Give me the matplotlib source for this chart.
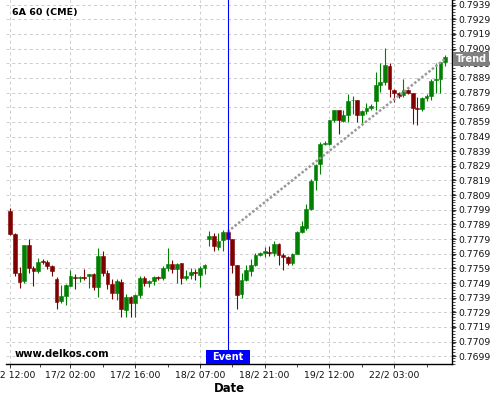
import numpy as np
import matplotlib
matplotlib.use("Agg")
import matplotlib.pyplot as plt
from matplotlib.ticker import MultipleLocator, FixedLocator
import matplotlib.transforms as mtransforms

# hourly candles, 6A (AUD futures), weekend / daily halts skipped
opens = [0.77979, 0.77828, 0.77561, 0.77506, 0.77750, 0.77593, 0.77574, 0.77640, 0.77636, 0.77606,
         0.77517, 0.77369, 0.77401, 0.77472, 0.77533, 0.77522, 0.77533, 0.77538, 0.77552, 0.77460,
         0.77675, 0.77561, 0.77483, 0.77424, 0.77497, 0.77305, 0.77392, 0.77357, 0.77410, 0.77524,
         0.77490, 0.77505, 0.77530, 0.77523, 0.77592, 0.77621, 0.77585, 0.77626, 0.77523, 0.77544,
         0.77562, 0.77546, 0.77596, 0.77790, 0.77813, 0.77735, 0.77785, 0.77838, 0.77790, 0.77615,
         0.77416, 0.77508, 0.77569, 0.77615, 0.77683, 0.77694, 0.77699, 0.77694, 0.77758, 0.77683,
         0.77667, 0.77626, 0.77690, 0.77836, 0.77868, 0.77997, 0.78195, 0.78305, 0.78437, 0.78437,
         0.78601, 0.78669, 0.78596, 0.78635, 0.78738, 0.78742, 0.78635, 0.78665, 0.78688, 0.78735,
         0.78842, 0.78865, 0.78972, 0.78808, 0.78790, 0.78774, 0.78808, 0.78790, 0.78682, 0.78676,
         0.78751, 0.78767, 0.78876, 0.78881, 0.79001]
highs = [0.78000, 0.77830, 0.77602, 0.77752, 0.77790, 0.77606, 0.77659, 0.77652, 0.77648, 0.77611,
         0.77529, 0.77476, 0.77483, 0.77579, 0.77549, 0.77540, 0.77584, 0.77552, 0.77561, 0.77727,
         0.77708, 0.77579, 0.77515, 0.77515, 0.77515, 0.77415, 0.77403, 0.77418, 0.77535, 0.77540,
         0.77510, 0.77540, 0.77540, 0.77603, 0.77728, 0.77649, 0.77626, 0.77630, 0.77580, 0.77592,
         0.77585, 0.77603, 0.77620, 0.77842, 0.77831, 0.77830, 0.77854, 0.77842, 0.77790, 0.77615,
         0.77558, 0.77615, 0.77653, 0.77694, 0.77699, 0.77735, 0.77744, 0.77774, 0.77763, 0.77694,
         0.77672, 0.77694, 0.77842, 0.77911, 0.78031, 0.78202, 0.78305, 0.78453, 0.78460, 0.78605,
         0.78674, 0.78670, 0.78669, 0.78783, 0.78765, 0.78742, 0.78670, 0.78719, 0.78715, 0.78933,
         0.78995, 0.79093, 0.78990, 0.78812, 0.78797, 0.78881, 0.78812, 0.78790, 0.78762, 0.78762,
         0.78783, 0.78881, 0.78990, 0.79001, 0.79047]
lows = [0.77820, 0.77538, 0.77453, 0.77488, 0.77556, 0.77472, 0.77560, 0.77620, 0.77588, 0.77538,
        0.77310, 0.77355, 0.77339, 0.77470, 0.77447, 0.77500, 0.77510, 0.77454, 0.77442, 0.77392,
        0.77538, 0.77447, 0.77378, 0.77374, 0.77259, 0.77255, 0.77257, 0.77257, 0.77387, 0.77467,
        0.77462, 0.77478, 0.77508, 0.77512, 0.77569, 0.77558, 0.77490, 0.77485, 0.77508, 0.77517,
        0.77512, 0.77462, 0.77553, 0.77744, 0.77706, 0.77717, 0.77710, 0.77785, 0.77558, 0.77312,
        0.77387, 0.77501, 0.77535, 0.77603, 0.77676, 0.77667, 0.77676, 0.77676, 0.77615, 0.77580,
        0.77615, 0.77615, 0.77690, 0.77831, 0.77854, 0.77986, 0.78123, 0.78232, 0.78430, 0.78430,
        0.78590, 0.78505, 0.78589, 0.78589, 0.78646, 0.78589, 0.78578, 0.78642, 0.78669, 0.78671,
        0.78796, 0.78840, 0.78762, 0.78728, 0.78751, 0.78762, 0.78780, 0.78573, 0.78569, 0.78667,
        0.78735, 0.78739, 0.78789, 0.78789, 0.78972]
closes = [0.77828, 0.77561, 0.77499, 0.77750, 0.77593, 0.77574, 0.77634, 0.77634, 0.77606, 0.77574,
          0.77360, 0.77401, 0.77476, 0.77538, 0.77524, 0.77533, 0.77526, 0.77550, 0.77460, 0.77675,
          0.77561, 0.77483, 0.77424, 0.77506, 0.77310, 0.77398, 0.77357, 0.77410, 0.77524, 0.77490,
          0.77505, 0.77530, 0.77523, 0.77592, 0.77621, 0.77585, 0.77621, 0.77523, 0.77539, 0.77562,
          0.77558, 0.77592, 0.77615, 0.77808, 0.77740, 0.77774, 0.77836, 0.77790, 0.77615, 0.77410,
          0.77508, 0.77576, 0.77615, 0.77683, 0.77694, 0.77710, 0.77694, 0.77758, 0.77683, 0.77667,
          0.77626, 0.77690, 0.77836, 0.77877, 0.77997, 0.78186, 0.78293, 0.78437, 0.78446, 0.78601,
          0.78669, 0.78601, 0.78635, 0.78733, 0.78742, 0.78635, 0.78665, 0.78688, 0.78697, 0.78842,
          0.78865, 0.78979, 0.78812, 0.78790, 0.78769, 0.78808, 0.78790, 0.78682, 0.78676, 0.78751,
          0.78767, 0.78872, 0.78881, 0.79001, 0.79036]

tick_pos = [0, 13, 27, 41, 55, 69, 83]
tick_labels = ['16/2 12:00', '17/2 02:00', '17/2 16:00', '18/2 07:00',
               '18/2 21:00', '19/2 12:00', '22/2 03:00']

event_idx = 47
trend_x = [47, 94]
trend_y = [0.7784, 0.7902]

fig = plt.figure(figsize=(5, 4), dpi=100)
ax = fig.add_axes([6 / 500, 36 / 400, 446 / 500, 364 / 400])

x = np.arange(len(opens))
o = np.array(opens)
c = np.array(closes)
cols = ['#008000' if cc >= oo else '#800000' for oo, cc in zip(o, c)]

ax.vlines(x, lows, highs, colors=cols, linewidth=0.8, zorder=3)
ax.bar(x, c - o, bottom=o, width=0.82, color=cols, edgecolor=cols, linewidth=0.4, zorder=4)

# trend line from the event candle
ax.plot(trend_x, trend_y, color='#999999', linewidth=1.8, linestyle=(0, (1, 0.8)), zorder=5)

# event marker
ax.axvline(event_idx, color='#0000ff', linewidth=0.8, zorder=6)
ax.add_patch(plt.Rectangle((event_idx - 4.75, 0), 9.5, 14 / 364,
                           transform=mtransforms.blended_transform_factory(ax.transData, ax.transAxes),
                           facecolor='#0000ff', edgecolor='none', zorder=7, clip_on=False))
ax.text(event_idx, 7 / 364, 'Event', color='white', fontsize=7, fontweight='bold',
        ha='center', va='center', zorder=8,
        transform=mtransforms.blended_transform_factory(ax.transData, ax.transAxes))

# label for the trend on the price axis
ax.annotate('Trend', xy=(1, trend_y[1]),
            xycoords=mtransforms.blended_transform_factory(ax.transAxes, ax.transData),
            xytext=(2.6, 0), textcoords='offset points', ha='left', va='center',
            color='white', fontsize=7, fontweight='bold', annotation_clip=False, zorder=10,
            bbox=dict(boxstyle='square,pad=0.22', facecolor='#808080', edgecolor='none'))

ax.set_xlim(-0.93, 95.5)
ax.set_ylim(0.769374, 0.79422)

ax.xaxis.set_major_locator(FixedLocator(tick_pos))
ax.set_xticklabels(tick_labels)
ax.xaxis.set_minor_locator(FixedLocator([6.5, 20, 34, 48, 62, 76, 90]))
ax.yaxis.tick_right()
ax.yaxis.set_minor_locator(MultipleLocator(0.0002))
ax.set_yticks(np.arange(0.7699, 0.79395, 0.001))
ax.yaxis.set_major_formatter(plt.FuncFormatter(lambda v, p: f'{v:.4f}'))

ax.tick_params(axis='both', which='major', labelsize=6.7, length=3, width=0.6, pad=1.5, colors='#111111')
ax.tick_params(axis='both', which='minor', length=1.8, width=0.5)

ax.grid(True, which='major', color='#cccccc', linestyle=(0, (3, 3)), linewidth=0.7)
ax.set_axisbelow(True)

for s in ['left', 'top']:
    ax.spines[s].set_visible(False)
ax.spines['right'].set_linewidth(1)
ax.spines['bottom'].set_linewidth(1)

ax.set_xlabel('Date', fontsize=8.4, fontweight='bold', labelpad=2)

ax.text(6 / 446, 352 / 364, '6A 60 (CME)', transform=ax.transAxes, fontsize=6.8,
        fontweight='bold', ha='left', va='center')
ax.text(9 / 446, 10 / 364, 'www.delkos.com', transform=ax.transAxes, fontsize=7.2,
        fontweight='bold', ha='left', va='center')

fig.savefig('out.png', dpi=100)
